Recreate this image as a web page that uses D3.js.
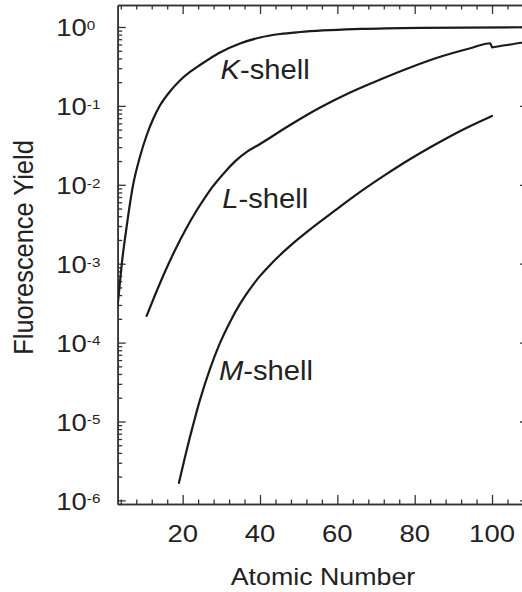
<!DOCTYPE html>
<html><head><meta charset="utf-8">
<script src="https://cdn.jsdelivr.net/npm/d3@7"></script>
<style>
body{margin:0;background:#fff;}
svg{display:block;font-family:"Liberation Sans",Arial,Helvetica,sans-serif;}
</style>
</head><body>
<svg id="c" width="522" height="592"></svg>
<script>
// ---- data ----
const kZ = [3.2, 3.64, 4.28, 5.32, 7.13, 8.94, 10.76, 12.31, 14.12, 16.71, 19.3, 21.89, 24.48, 27.07, 29.66, 34.83, 40.01, 45.19, 50.37, 65.9, 81.4, 109.3];
const kY = [3.0e-4, 4.93e-4, 1.02e-3, 2.52e-3, 9.67e-3, 2.25e-2, 4.34e-2, 6.73e-2, 0.1012, 0.1524, 0.210, 0.269, 0.330, 0.399, 0.475, 0.618, 0.736, 0.815, 0.864, 0.944, 0.977, 0.994];

const lZ = [10.68, 12.83, 15.42, 18.01, 20.6, 23.18, 25.77, 27.51, 30.95, 33.54, 36.57, 40.01, 47.78, 55.55, 63.31, 71.08, 78.85, 86.61, 94.38, 99.56, 100.0, 102.15, 107.77, 109.3];
const lY = [2.18e-4, 3.98e-4, 7.91e-4, 1.48e-3, 2.62e-3, 4.36e-3, 6.86e-3, 9.12e-3, 1.455e-2, 1.98e-2, 2.61e-2, 3.29e-2, 5.73e-2, 9.55e-2, 0.148, 0.216, 0.307, 0.419, 0.537, 0.622, 0.553, 0.574, 0.632, 0.646];

const mZ = [19.04, 20.6, 21.89, 23.18, 24.48, 27.07, 29.66, 32.25, 34.83, 37.42, 40.01, 42.6, 45.19, 47.78, 50.37, 52.96, 59.43, 65.9, 72.38, 78.85, 85.32, 91.8, 100.0];
const mY = [1.67e-6, 3.56e-6, 6.38e-6, 1.11e-5, 1.88e-5, 4.64e-5, 9.91e-5, 1.83e-4, 3.09e-4, 4.79e-4, 7.0e-4, 9.64e-4, 1.29e-3, 1.68e-3, 2.15e-3, 2.72e-3, 4.73e-3, 8.11e-3, 1.333e-2, 2.12e-2, 3.24e-2, 4.81e-2, 7.45e-2];

const xMajor = [20, 40, 60, 80, 100];
const yMajorExp = [0, -1, -2, -3, -4, -5, -6];
const shellLabels = [
  {ital: "K", rest: "-shell"},
  {ital: "L", rest: "-shell"},
  {ital: "M", rest: "-shell"}
];
const xTitle = "Atomic Number";
const yTitle = "Fluorescence Yield";

// ---- layout ----
const svg = d3.select("#c");
const x = d3.scaleLinear().domain([3.2, 109.3]).range([117.7, 528]);
const y = d3.scaleLog().domain([9.0e-7, 1.9]).range([504, 5]);
const ink = "#222";

svg.append("defs").append("clipPath").attr("id","pc")
  .append("rect").attr("x", x.range()[0]).attr("y", y.range()[1])
  .attr("width", x.range()[1]-x.range()[0]).attr("height", y.range()[0]-y.range()[1]);

const xMinor = d3.range(4, 109, 4).filter(v => v % 20 !== 0);
const yMinor = [];
for (let e = -7; e <= 0; e++) for (let m = 2; m <= 9; m++) {
  const v = m * Math.pow(10, e);
  if (v >= y.domain()[0] && v <= y.domain()[1]) yMinor.push(v);
}
const yMajor = yMajorExp.map(e => Math.pow(10, e));

function styleAxis(g){
  g.selectAll("path.domain").attr("stroke", "#333").attr("stroke-width", 1.6);
  g.selectAll(".tick line").attr("stroke", "#333").attr("stroke-width", 1.3);
  g.selectAll(".tick text").remove();
}
const y0 = y.range()[0], y1 = y.range()[1], x0 = x.range()[0], x1 = x.range()[1];

svg.append("g").attr("transform", `translate(0,${y0})`)
  .call(d3.axisBottom(x).tickValues(xMinor).tickSizeInner(-4.5).tickSizeOuter(0)).call(styleAxis);
svg.append("g").attr("transform", `translate(0,${y0})`)
  .call(d3.axisBottom(x).tickValues(xMajor).tickSizeInner(-9).tickSizeOuter(0)).call(styleAxis);
svg.append("g").attr("transform", `translate(0,${y1})`)
  .call(d3.axisTop(x).tickValues(xMinor).tickSizeInner(-4.5).tickSizeOuter(0)).call(styleAxis);
svg.append("g").attr("transform", `translate(0,${y1})`)
  .call(d3.axisTop(x).tickValues(xMajor).tickSizeInner(-9).tickSizeOuter(0)).call(styleAxis);
svg.append("g").attr("transform", `translate(${x0},0)`)
  .call(d3.axisLeft(y).tickValues(yMinor).tickSizeInner(-4.5).tickSizeOuter(0)).call(styleAxis);
svg.append("g").attr("transform", `translate(${x0},0)`)
  .call(d3.axisLeft(y).tickValues(yMajor).tickSizeInner(-8).tickSizeOuter(0)).call(styleAxis);
svg.append("g").attr("transform", `translate(${x1},0)`)
  .call(d3.axisRight(y).tickValues(yMinor).tickSizeInner(-4.5).tickSizeOuter(0)).call(styleAxis);
svg.append("g").attr("transform", `translate(${x1},0)`)
  .call(d3.axisRight(y).tickValues(yMajor).tickSizeInner(-8).tickSizeOuter(0)).call(styleAxis);

// curves
const line = d3.line().x(d => x(d[0])).y(d => y(d[1])).curve(d3.curveMonotoneX);
const series = [d3.zip(kZ, kY), d3.zip(lZ, lY), d3.zip(mZ, mY)];
svg.append("g").attr("clip-path", "url(#pc)")
  .selectAll("path").data(series).join("path")
  .attr("d", line).attr("fill", "none").attr("stroke", "#1a1a1a")
  .attr("stroke-width", 2.2).attr("stroke-linejoin", "round").attr("stroke-linecap", "round");

// x tick labels
xMajor.forEach(v => {
  svg.append("text")
    .attr("transform", `translate(${x(v)},541.7) scale(1.17,1)`)
    .attr("text-anchor", "middle").attr("font-size", 23.5).attr("fill", ink)
    .text(v);
});

// y tick labels
yMajorExp.forEach(e => {
  const t = svg.append("text")
    .attr("transform", `translate(56.3,${y(Math.pow(10, e)) + 9.3}) scale(1.17,1)`)
    .attr("font-size", 23.5).attr("fill", ink);
  t.append("tspan").text("10");
  t.append("tspan").attr("font-size", 13).attr("dy", -6.5).text(String(e));
});

// shell labels
const labelPos = [[220.5, 79.3], [222.3, 208.3], [219, 380]];
shellLabels.forEach((s, i) => {
  const t = svg.append("text")
    .attr("transform", `translate(${labelPos[i][0]},${labelPos[i][1]}) scale(1.08,1)`)
    .attr("font-size", 27).attr("fill", ink);
  t.append("tspan").attr("font-style", "italic").text(s.ital);
  t.append("tspan").text(s.rest);
});

// axis titles
svg.append("text")
  .attr("transform", "translate(323,585) scale(1.14,1)")
  .attr("text-anchor", "middle").attr("font-size", 23.5).attr("fill", ink)
  .text(xTitle);
svg.append("text")
  .attr("transform", "translate(33.3,247.5) rotate(-90) scale(1,1.08)")
  .attr("text-anchor", "middle").attr("font-size", 25.4).attr("fill", ink)
  .text(yTitle);
</script>
</body></html>
